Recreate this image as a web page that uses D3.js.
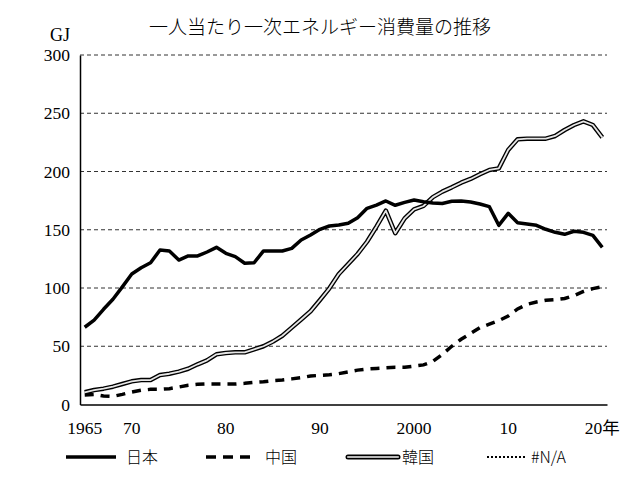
<!DOCTYPE html>
<html><head><meta charset="utf-8">
<script src="https://cdn.jsdelivr.net/npm/d3@7"></script>
<style>html,body{margin:0;padding:0;background:#fff;}</style>
</head><body>
<svg id="c" width="636" height="486"></svg>
<script>
const years = d3.range(1965, 2021);
const japan = [66.3,72.5,81.7,90.3,101,112,117.4,121.7,132.6,131.8,124,127.5,127.5,130.9,134.9,129.8,126.9,121.2,121.7,131.8,131.8,131.8,134,141.2,145.5,150.4,153.2,154,155.5,160.4,168.4,171.2,174.7,171,173.5,175.5,174,173,172.6,174.4,174.7,173.8,172.1,169.8,153.8,164.1,156,155,153.8,150.4,147.8,146.1,148.7,147.8,145.2,134.9];
const china = [8.2,8.7,7.3,7,8.7,10.7,12.2,13,13,13.6,15,16.5,17.3,17.6,17.6,17.6,17.6,18.2,19,19.5,20.5,21,22,23,24.5,25,25.5,26.5,28,29.5,30.5,31,31.5,32,32,33,34,37,43,50,56,61,66,69,72,76,82,86,88,89.5,90,91,93.5,97,99.5,101];
const korea = [10.5,12.4,13.6,15.3,17.6,19.9,21,21,25.3,26.4,28.2,30.7,34.5,37.9,43.1,44.2,44.8,44.8,47.4,50,54,59,66,73,80,89.7,99.7,112,120.6,129.2,139.7,152.6,166.4,147,159.8,167.5,170.4,178,182.7,186.4,190.4,193.6,197.6,201.3,202.7,218.5,227.6,228.2,228.2,228.2,230.5,235.6,239.9,243.1,239.9,229.3];
const yTicks = [0,50,100,150,200,250,300];
const xTickYears = [1965,1970,1980,1990,2000,2010,2020];
const xTickLabels = ["1965","70","80","90","2000","10","20年"];
const seriesNames = ["日本","中国","韓国","#N/A"];
const title = "一人当たり一次エネルギー消費量の推移";
const unit = "GJ";

const svg = d3.select("#c");
const L = 80, R = 607, T = 55, B = 404.5;
const x = d3.scaleBand().domain(years).range([L, R]).padding(0);
const cx = d => x(d) + x.bandwidth()/2;
const y = d3.scaleLinear().domain([0,300]).range([B, T]);
const numFont = "'Liberation Serif', serif";
const jpFont = "'Noto Sans CJK JP', sans-serif";

// gridlines
svg.append("g").selectAll("line").data(yTicks.filter(v=>v>0)).join("line")
  .attr("x1", L).attr("x2", R).attr("y1", d=>y(d)).attr("y2", d=>y(d))
  .attr("stroke", "#333").attr("stroke-width", 1).attr("stroke-dasharray", "4,3");

// axes
const yAxis = d3.axisLeft(y).tickValues(yTicks).tickSize(0).tickPadding(10);
const gy = svg.append("g").attr("transform", `translate(${L},0)`).call(yAxis);
gy.select(".domain").attr("stroke", "#000").attr("stroke-width", 1.5);
gy.selectAll("text").attr("font-family", numFont).attr("font-size", 17.5).attr("fill", "#000");

const xAxis = d3.axisBottom(x).tickValues(xTickYears).tickSize(0)
  .tickFormat(d => xTickLabels[xTickYears.indexOf(d)]);
const gx = svg.append("g").attr("transform", `translate(0,${B})`).call(xAxis);
gx.select(".domain").attr("stroke", "#000").attr("stroke-width", 1.5);
gx.selectAll("text").attr("y", 17).attr("font-family", numFont).attr("font-size", 17.5).attr("fill", "#000");
gx.selectAll(".tick").filter(d=>d===2020).select("text").attr("font-family", "'Liberation Serif','Noto Sans CJK JP',serif");

// lines
const line = d3.line().x((d,i)=>cx(years[i])).y(d=>y(d)).curve(d3.curveLinear);
svg.append("path").datum(china).attr("d", line).attr("fill","none")
  .attr("stroke","#000").attr("stroke-width",3.5).attr("stroke-dasharray","9,7");
svg.append("path").datum(korea).attr("d", line).attr("fill","none")
  .attr("stroke","#000").attr("stroke-width",4.5).attr("stroke-linejoin","round");
svg.append("path").datum(korea).attr("d", line).attr("fill","none")
  .attr("stroke","#e6e6e6").attr("stroke-width",1.8).attr("stroke-linejoin","round");
svg.append("path").datum(japan).attr("d", line).attr("fill","none")
  .attr("stroke","#000").attr("stroke-width",3.5).attr("stroke-linejoin","round");

// title & unit
svg.append("text").attr("x", 320).attr("y", 34).attr("text-anchor","middle")
  .attr("font-family", jpFont).attr("font-size", 19).attr("font-weight", 300).text(title);
svg.append("text").attr("x", 70).attr("y", 41).attr("text-anchor","end")
  .attr("font-family", numFont).attr("font-size", 18).text(unit);

// legend
const ly = 457;
const lg = svg.append("g");
lg.append("line").attr("x1",66).attr("x2",116).attr("y1",ly).attr("y2",ly).attr("stroke","#000").attr("stroke-width",3.5);
lg.append("line").attr("x1",206).attr("x2",252).attr("y1",ly).attr("y2",ly).attr("stroke","#000").attr("stroke-width",3.5).attr("stroke-dasharray","10,7");
lg.append("line").attr("x1",348).attr("x2",398).attr("y1",ly).attr("y2",ly).attr("stroke","#000").attr("stroke-width",5).attr("stroke-linecap","round");
lg.append("line").attr("x1",348).attr("x2",398).attr("y1",ly).attr("y2",ly).attr("stroke","#bbb").attr("stroke-width",2.2).attr("stroke-linecap","round");
lg.append("line").attr("x1",487).attr("x2",527).attr("y1",ly).attr("y2",ly).attr("stroke","#000").attr("stroke-width",2).attr("stroke-dasharray","2,2");
const lx = [126, 265, 402, 531];
lg.selectAll("text.lt").data(seriesNames).join("text").attr("class","lt")
  .attr("x", (d,i)=>lx[i]).attr("y", ly+6).attr("font-family", jpFont)
  .attr("font-size", 16).attr("font-weight", 300).text(d=>d);
</script>
</body></html>
